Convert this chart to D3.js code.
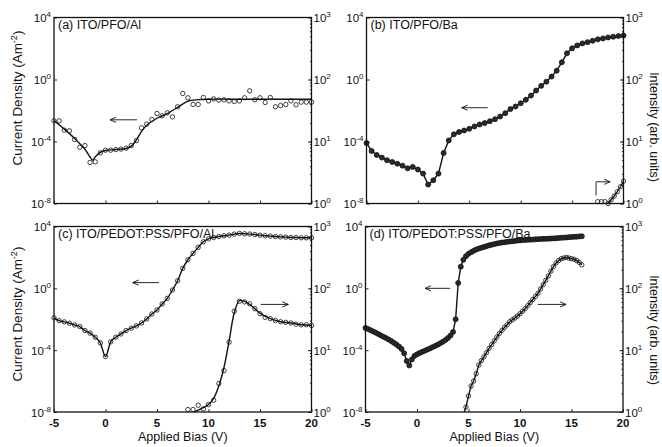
<!DOCTYPE html>
<html>
<head>
<meta charset="utf-8">
<script src="https://cdn.jsdelivr.net/npm/d3@7"></script>
<style>
    body { margin: 0; background: #fff; }
    svg text { font-family: "Liberation Sans", Arial, Helvetica, sans-serif; fill: #111; }
</style>
</head>
<body>
<svg id="chart" width="662" height="447"></svg>
<script>
// ---- axis ticks / labels ----
const xTicks = [-5, 0, 5, 10, 15, 20];
const leftExps = [4, 0, -4, -8];      // current density decades shown
const rightExps = [0, 1, 2, 3];       // intensity decades shown
const panelLabels = ["(a) ITO/PFO/Al", "(b) ITO/PFO/Ba", "(c) ITO/PEDOT:PSS/PFO/Al", "(d) ITO/PEDOT:PSS/PFO/Ba"];

// ---- bias grids (V) ----
const biasHalf = [-5, -4.5, -4, -3.5, -3, -2.5, -2, -1.5, -1, -0.5, 0, 0.5, 1, 1.5, 2, 2.5, 3, 3.5, 4, 4.5,
    5, 5.5, 6, 6.5, 7, 7.5, 8, 8.5, 9, 9.5, 10, 10.5, 11, 11.5, 12, 12.5, 13, 13.5, 14, 14.5,
    15, 15.5, 16, 16.5, 17, 17.5, 18, 18.5, 19, 19.5, 20];

// ---- (a) ITO/PFO/Al : log10 current density ----
const aCurLog = [-2.67, -2.67, -3.27, -3.31, -3.87, -4.37, -4.26, -5.35, -5.31, -4.73, -4.56, -4.56, -4.52, -4.49,
    -4.43, -4.26, -3.94, -3.12, -2.88, -2.58, -2.19, -2.34, -2.15, -2.41, -1.76, -0.90, -1.18, -1.61, -1.61,
    -1.16, -1.38, -1.25, -1.33, -1.31, -1.38, -1.42, -1.38, -1.18, -0.73, -1.31, -1.18, -1.48, -1.16, -1.76,
    -1.68, -1.61, -1.38, -1.63, -1.46, -1.46, -1.46];
// smooth fit drawn through (a)
const aFitV = [-5, -4, -3, -2, -1.5, -1.25, -1, -0.5, 0, 1, 2, 2.5, 3, 3.5, 4, 5, 6, 7, 8, 9, 10, 12, 15, 20];
const aFitLog = [-2.65, -3.2, -3.8, -4.5, -5.0, -5.2, -5.0, -4.7, -4.58, -4.52, -4.45, -4.3, -3.9, -3.35, -2.95,
    -2.5, -2.2, -1.8, -1.4, -1.3, -1.27, -1.27, -1.27, -1.27];

// ---- (b) ITO/PFO/Ba ----
const bCurLog = [-4.1, -4.61, -4.87, -5.04, -5.21, -5.32, -5.43, -5.56, -5.73, -5.64, -5.81, -6.07, -6.78, -6.5,
    -6.07, -4.74, -3.93, -3.54, -3.39, -3.29, -3.18, -3.03, -2.9, -2.81, -2.69, -2.56, -2.39, -2.17, -1.91,
    -1.74, -1.53, -1.31, -1.04, -0.71, -0.41, -0.14, 0.19, 0.57, 1.11, 1.69, 2.01, 2.2, 2.33, 2.41, 2.5,
    2.59, 2.65, 2.71, 2.76, 2.8, 2.84];
const bIntOffV = [17.5, 17.85, 18.2];
const bIntOffLog = [0.03, 0.03, 0.03];
const bIntV = [18.5, 18.8, 19.1, 19.4, 19.7, 20];
const bIntLog = [0.0, 0.06, 0.12, 0.19, 0.27, 0.36];

// ---- (c) ITO/PEDOT:PSS/PFO/Al ----
const cCurLog = [-1.91, -2.09, -2.17, -2.26, -2.37, -2.47, -2.73, -2.9, -3.16, -3.53, -4.41, -3.46, -3.16, -2.95,
    -2.73, -2.58, -2.43, -2.24, -1.98, -1.66, -1.4, -1.01, -0.65, -0.11, 0.49, 1.29, 1.85, 2.26, 2.65, 3.01,
    3.2, 3.29, 3.35, 3.4, 3.44, 3.51, 3.55, 3.53, 3.51, 3.48, 3.44, 3.4, 3.38, 3.35, 3.33, 3.31, 3.29, 3.29,
    3.27, 3.27, 3.27];
const cIntV = [8, 8.5, 9, 9.5, 10, 10.5, 11, 11.5, 12, 12.5, 13, 13.5, 14, 14.5, 15, 15.5, 16, 16.5, 17, 17.5,
    18, 18.5, 19, 19.5, 20];
const cIntLog = [0.04, 0.04, 0.11, 0.05, 0.12, 0.19, 0.46, 0.67, 1.13, 1.63, 1.79, 1.78, 1.75, 1.67, 1.59, 1.53,
    1.51, 1.48, 1.46, 1.45, 1.44, 1.42, 1.41, 1.41, 1.40];
const cIntFitV = [8.6, 9, 9.5, 10, 10.5, 11, 11.5, 12, 12.5, 13, 13.5, 14, 14.5, 15, 16, 17, 18, 19, 20];
const cIntFitLog = [0, 0.03, 0.07, 0.12, 0.22, 0.42, 0.72, 1.15, 1.6, 1.8, 1.79, 1.74, 1.67, 1.6, 1.51, 1.46,
    1.44, 1.41, 1.4];

// ---- (d) ITO/PEDOT:PSS/PFO/Ba ----
const dCurV = [-5, -4.75, -4.5, -4.25, -4, -3.75, -3.5, -3.25, -3, -2.75, -2.5, -2.25, -2, -1.75, -1.5, -1.25,
    -1, -0.75, -0.5, -0.25, 0, 0.25, 0.5, 0.75, 1, 1.25, 1.5, 1.75, 2, 2.25, 2.5, 2.75, 3, 3.25, 3.5, 3.75,
    4, 4.25, 4.5, 4.75, 5, 5.25, 5.5, 5.75, 6, 6.25, 6.5, 6.75, 7, 7.25, 7.5, 7.75, 8, 8.25, 8.5, 8.75,
    9, 9.25, 9.5, 9.75, 10, 10.25, 10.5, 10.75, 11, 11.25, 11.5, 11.75, 12, 12.25, 12.5, 12.75, 13, 13.25,
    13.5, 13.75, 14, 14.25, 14.5, 14.75, 15, 15.25, 15.5, 15.75, 16];
const dCurLog = [-2.56, -2.63, -2.71, -2.79, -2.87, -2.96, -3.05, -3.14, -3.22, -3.31, -3.41, -3.52, -3.63, -3.76,
    -3.92, -4.2, -4.7, -4.99, -4.6, -4.37, -4.27, -4.19, -4.11, -4.04, -3.96, -3.89, -3.81, -3.73, -3.65,
    -3.56, -3.46, -3.35, -3.22, -3.05, -2.82, -2.0, 0.35, 1.4, 1.85, 2.08, 2.23, 2.34, 2.43, 2.51, 2.57,
    2.63, 2.68, 2.73, 2.78, 2.82, 2.86, 2.9, 2.93, 2.96, 2.98, 3.01, 3.03, 3.05, 3.07, 3.09, 3.1, 3.12, 3.13,
    3.14, 3.15, 3.16, 3.17, 3.18, 3.19, 3.2, 3.2, 3.21, 3.22, 3.23, 3.24, 3.26, 3.27, 3.28, 3.29, 3.31,
    3.32, 3.33, 3.34, 3.36, 3.37];
const dIntV = [4.6, 4.75, 5, 5.25, 5.5, 5.75, 6, 6.25, 6.5, 6.75, 7, 7.25, 7.5, 7.75, 8, 8.25, 8.5, 8.75, 9,
    9.25, 9.5, 9.75, 10, 10.25, 10.5, 10.75, 11, 11.25, 11.5, 11.75, 12, 12.25, 12.5, 12.75, 13, 13.25,
    13.5, 13.75, 14, 14.25, 14.5, 14.75, 15, 15.25, 15.5, 15.75, 16];
const dIntLog = [0, 0.08, 0.26, 0.42, 0.5, 0.62, 0.76, 0.83, 0.89, 0.96, 1.03, 1.09, 1.15, 1.21, 1.27, 1.32,
    1.37, 1.41, 1.46, 1.49, 1.52, 1.55, 1.59, 1.63, 1.67, 1.72, 1.77, 1.82, 1.87, 1.92, 1.99, 2.06, 2.13,
    2.2, 2.28, 2.35, 2.41, 2.45, 2.48, 2.49, 2.5, 2.49, 2.48, 2.47, 2.45, 2.42, 2.38];

const svg = d3.select("#chart");

const zip = (vs, ls) => vs.map((v, i) => ({ v: v, l: ls[i] }));

// series: axis L = current density, R = intensity
const panels = [
    {
        box: [54, 17.5, 311.5, 203.5], label: panelLabels[0], xLabels: false, title: "L", titleY: 98,
        series: [
            { data: zip(aFitV, aFitLog), axis: "L", line: true, curve: d3.curveCatmullRom },
            { data: zip(biasHalf, aCurLog), axis: "L", marker: "open" }
        ],
        arrows: [{ axis: "L", v1: 3.06, v2: 0.44, l1: -2.6, l2: -2.6 }]
    },
    {
        box: [366.5, 17.5, 623.5, 203.5], label: panelLabels[1], xLabels: false, title: "R", titleY: 127,
        series: [
            { data: zip(biasHalf, bCurLog), axis: "L", line: true, marker: "filled" },
            { data: zip(bIntOffV, bIntOffLog), axis: "R", marker: "open" },
            { data: zip(bIntV, bIntLog), axis: "R", line: true, marker: "open" }
        ],
        arrows: [
            { axis: "L", v1: 6.79, v2: 4.26, l1: -1.82, l2: -1.82 },
            { axis: "R", bent: true, v1: 17.33, v2: 18.7, l1: 0.13, l2: 0.35 }
        ]
    },
    {
        box: [54, 226.5, 311.5, 412], label: panelLabels[2], xLabels: true, title: "L", titleY: 314,
        series: [
            { data: zip(biasHalf, cCurLog), axis: "L", line: true, marker: "open", curve: d3.curveMonotoneX },
            { data: zip(cIntFitV, cIntFitLog), axis: "R", line: true, curve: d3.curveCatmullRom },
            { data: zip(cIntV, cIntLog), axis: "R", marker: "open" }
        ],
        arrows: [
            { axis: "L", v1: 5.19, v2: 2.64, l1: 0.37, l2: 0.37 },
            { axis: "R", v1: 15.07, v2: 17.75, l1: 1.74, l2: 1.74 }
        ]
    },
    {
        box: [365.5, 226.5, 623, 412], label: panelLabels[3], xLabels: true, title: "R", titleY: 330,
        series: [
            { data: zip(dCurV, dCurLog), axis: "L", line: true, marker: "filled" },
            { data: zip(dIntV, dIntLog), axis: "R", line: true },
            { data: zip(dIntV.slice(1), dIntLog.slice(1)), axis: "R", marker: "open" }
        ],
        arrows: [
            { axis: "L", v1: 3.23, v2: 0.78, l1: 0, l2: 0 },
            { axis: "R", v1: 11.72, v2: 14.47, l1: 1.74, l2: 1.74 }
        ]
    }
];

function powLabel(text, exp) {
    text.append("tspan").text("10");
    text.append("tspan").attr("dy", -5).attr("font-size", 8).text(exp);
}

function arrowHead(g, x, y, dir) {
    // open arrow head, dir = +1 points right, -1 left
    g.append("path")
        .attr("d", `M${x - dir * 6},${y - 2.6} L${x},${y} L${x - dir * 6},${y + 2.6}`)
        .attr("fill", "none").attr("stroke", "#111").attr("stroke-width", 0.9);
}

panels.forEach((p, pi) => {
    const [x0, y0, x1, y1] = p.box;
    const x = d3.scaleLinear().domain([-5, 20]).range([x0, x1]);
    const yL = d3.scaleLog().domain([1e-8, 1e4]).range([y1, y0]);
    const yR = d3.scaleLog().domain([1, 1e3]).range([y1, y0]);
    const yOf = s => (s.axis === "L" ? yL : yR);

    const g = svg.append("g");

    svg.append("clipPath").attr("id", "clip" + pi)
        .append("rect").attr("x", x0).attr("y", y0).attr("width", x1 - x0).attr("height", y1 - y0);

    const plot = g.append("g").attr("clip-path", `url(#clip${pi})`);

    // data
    p.series.forEach(s => {
        const y = yOf(s);
        if (s.line) {
            plot.append("path")
                .datum(s.data)
                .attr("fill", "none")
                .attr("stroke", "#111")
                .attr("stroke-width", 1.4)
                .attr("d", d3.line()
                    .x(d => x(d.v))
                    .y(d => y(Math.pow(10, d.l)))
                    .curve(s.curve || d3.curveLinear));
        }
        if (s.marker) {
            g.append("g").selectAll("circle")
                .data(s.data)
                .enter()
                .append("circle")
                .attr("cx", d => x(d.v))
                .attr("cy", d => y(Math.pow(10, d.l)))
                .attr("r", s.marker === "filled" ? 2.5 : 2.2)
                .attr("fill", s.marker === "filled" ? "#2a2a2a" : "none")
                .attr("stroke", "#111")
                .attr("stroke-width", 0.8);
        }
    });

    // arrows
    p.arrows.forEach(a => {
        const y = a.axis === "L" ? yL : yR;
        if (a.bent) {
            const xa = x(a.v1), xb = x(a.v2), ya = y(Math.pow(10, a.l1)), yb = y(Math.pow(10, a.l2));
            g.append("path")
                .attr("d", `M${xa},${ya} L${xa},${yb} L${xb},${yb}`)
                .attr("fill", "none").attr("stroke", "#111").attr("stroke-width", 0.9);
            arrowHead(g, xb, yb, 1);
        } else {
            const xa = x(a.v1), xb = x(a.v2), ya = y(Math.pow(10, a.l1));
            g.append("line")
                .attr("x1", xa).attr("x2", xb).attr("y1", ya).attr("y2", ya)
                .attr("stroke", "#111").attr("stroke-width", 0.9);
            arrowHead(g, xb, ya, xb > xa ? 1 : -1);
        }
    });

    // axes: inward ticks
    const xAxis = d3.axisBottom(x).tickValues(xTicks).tickSizeInner(-3).tickSizeOuter(0).tickFormat("");
    g.append("g").attr("transform", `translate(0,${y1})`).call(xAxis)
        .call(a => a.select(".domain").remove());

    const lAxis = d3.axisLeft(yL).tickValues(leftExps.map(e => Math.pow(10, e))).tickSizeInner(-3).tickSizeOuter(0).tickFormat("");
    g.append("g").attr("transform", `translate(${x0},0)`).call(lAxis)
        .call(a => a.select(".domain").remove());

    const rMinor = d3.axisRight(yR).tickValues(yR.ticks()).tickSizeInner(-1.6).tickSizeOuter(0).tickFormat("");
    g.append("g").attr("transform", `translate(${x1},0)`).call(rMinor)
        .call(a => a.select(".domain").remove());
    const rMajor = d3.axisRight(yR).tickValues(rightExps.map(e => Math.pow(10, e))).tickSizeInner(-3.5).tickSizeOuter(0).tickFormat("");
    g.append("g").attr("transform", `translate(${x1},0)`).call(rMajor)
        .call(a => a.select(".domain").remove());

    g.selectAll(".tick line").attr("stroke", "#111").attr("stroke-width", 0.9);

    // frame
    g.append("rect")
        .attr("x", x0).attr("y", y0).attr("width", x1 - x0).attr("height", y1 - y0)
        .attr("fill", "none").attr("stroke", "#111").attr("stroke-width", 1.3);

    // tick labels
    leftExps.forEach(e => {
        const t = g.append("text")
            .attr("x", x0 - 3).attr("y", yL(Math.pow(10, e)) + 4.5)
            .attr("text-anchor", "end").attr("font-size", 11.5);
        powLabel(t, e);
    });
    rightExps.forEach(e => {
        const t = g.append("text")
            .attr("x", x1 + 2).attr("y", yR(Math.pow(10, e)) + 4.5)
            .attr("font-size", 11.5);
        powLabel(t, e);
    });
    if (p.xLabels) {
        xTicks.forEach(v => {
            g.append("text")
                .attr("x", x(v)).attr("y", y1 + 14.5)
                .attr("text-anchor", "middle")
                .attr("font-size", 11.5).attr("font-weight", "bold")
                .text(String(v));
        });
        g.append("text")
            .attr("x", (x0 + x1) / 2).attr("y", y1 + 29)
            .attr("text-anchor", "middle").attr("font-size", 12.5)
            .text("Applied Bias (V)");
    }

    // panel label
    g.append("text")
        .attr("x", x0 + 4).attr("y", y0 + 11)
        .attr("font-size", 12.5)
        .text(p.label);

    // axis titles
    if (p.title === "L") {
        const t = g.append("text")
            .attr("transform", `translate(22,${p.titleY}) rotate(-90)`)
            .attr("text-anchor", "middle").attr("font-size", 13.5);
        t.append("tspan").text("Current Density (Am");
        t.append("tspan").attr("dy", -5).attr("font-size", 9).text("-2");
        t.append("tspan").attr("dy", 5).text(")");
    } else {
        g.append("text")
            .attr("transform", `translate(650,${p.titleY}) rotate(90)`)
            .attr("text-anchor", "middle").attr("font-size", 12.5)
            .text("Intensity (arb. units)");
    }
});
</script>
</body>
</html>
